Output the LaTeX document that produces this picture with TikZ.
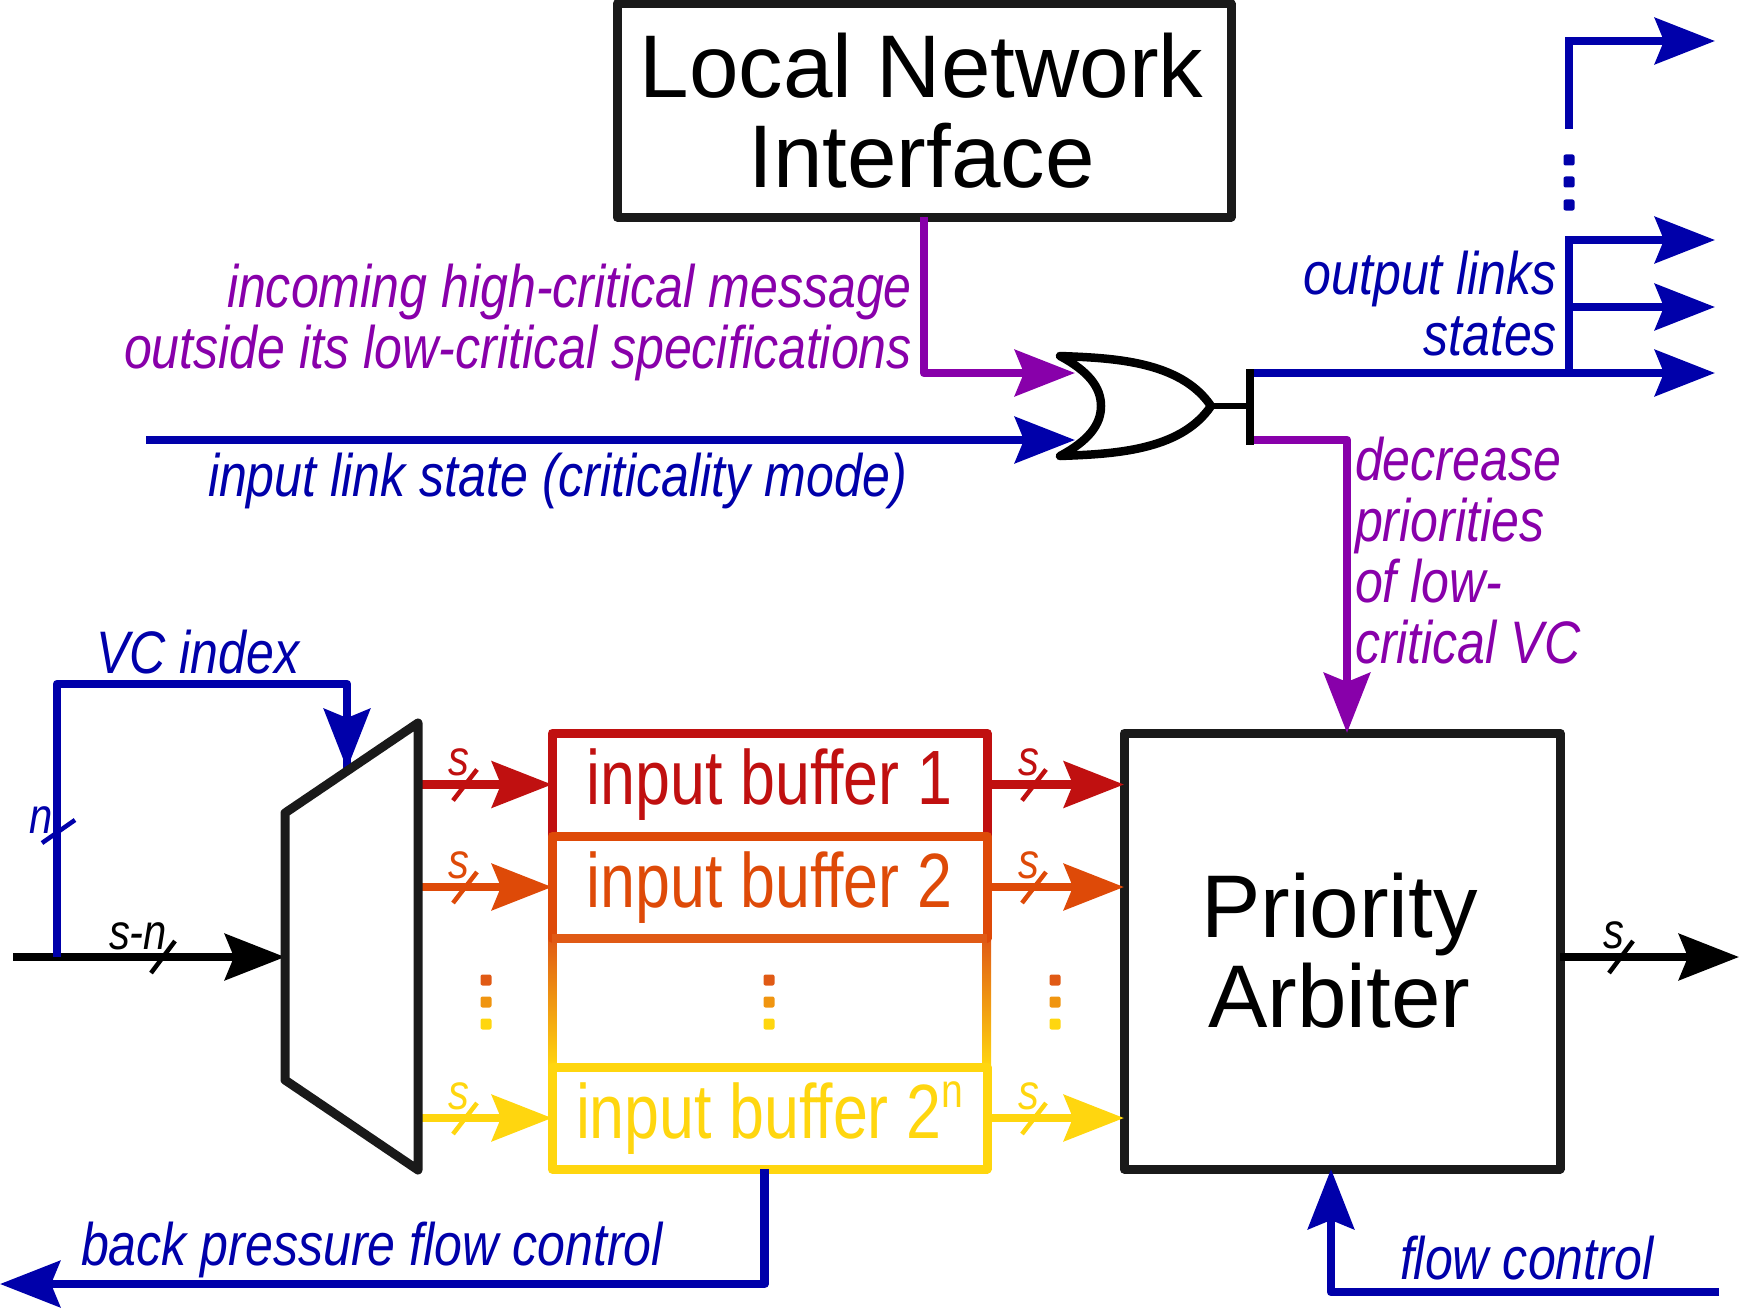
\documentclass[tikz,border=0pt]{standalone}
\usepackage{fontspec}
\setmainfont{Liberation Sans}
\newfontfamily\slimit{Liberation Sans}[FakeStretch=0.835]
\newfontfamily\slimup{Liberation Sans}[FakeStretch=0.815]
\usepackage{tikz}
\usetikzlibrary{positioning}
\usetikzlibrary{calc}
\usetikzlibrary{arrows.meta}
\definecolor{linkblue}{HTML}{0000AA}
\definecolor{critpurple}{HTML}{8800AA}
\definecolor{boxblack}{HTML}{1A1A1A}
\definecolor{bufred}{HTML}{C01010}
\definecolor{bufdeep}{HTML}{DE4A08}
\definecolor{bufmid}{HTML}{E05A15}
\definecolor{bufgold}{HTML}{F09510}
\definecolor{bufyellow}{HTML}{FFD60F}

\begin{document}
\begin{tikzpicture}[x=1pt, y=-1pt, on grid, line join=round,
wire/.style={line width=8.5pt, -{Stealth[length=60pt, width=46pt, inset=9pt]}},
plain/.style={line width=8.5pt},
bigbox/.style={draw=boxblack, line width=9pt, outer sep=0pt, inner sep=0pt, align=center, font=\fontsize{89}{90}\selectfont},
buffer/.style={draw=#1, line width=9pt, outer sep=0pt, inner sep=0pt, minimum width=435pt, text=#1, text height=56pt, text depth=16pt, font=\slimup\fontsize{77}{77}\selectfont},
lbl/.style={inner sep=0pt, outer sep=0pt, font=\slimit\itshape\fontsize{60}{61}\selectfont},
smalllbl/.style={inner sep=0pt, outer sep=0pt, font=\slimit\itshape\fontsize{50}{50}\selectfont},
tickmark/.style={line width=4.5pt},
dotmark/.style={inner sep=0pt, outer sep=0pt, minimum size=11pt, rounded corners=2pt}]
\useasboundingbox (0,0) rectangle (1739,1308);

\coordinate (InStart) at (13,957);
\coordinate (InBranch) at (57,957);
\coordinate (MuxIn) at (285,957);
\coordinate (MuxA) at (285,813);
\coordinate (MuxB) at (418,723);
\coordinate (MuxC) at (418,1170);
\coordinate (MuxD) at (285,1080);
\coordinate (MuxSel) at (347,769);
\coordinate (VcCorner) at (57,684);
\coordinate (Out) at (1739,957);
\coordinate (LinkStart) at (146,440);
\coordinate (GateA) at (1075,373);
\coordinate (GateB) at (1075,440);
\coordinate (GateTop) at (1060,356);
\coordinate (GateBot) at (1060,456);
\coordinate (GateOut) at (1211,406);
\coordinate (GateIn) at (1101,406);
\coordinate (BarTop) at (1250,369);
\coordinate (BarBot) at (1250,445);
\coordinate (BarMid) at (1250,406);
\coordinate (BarBlue) at (1250,373);
\coordinate (BarPurple) at (1250,440);
\coordinate (StateA) at (1715,373);
\coordinate (StateB) at (1715,307);
\coordinate (StateC) at (1715,240);
\coordinate (StateD) at (1715,41);
\coordinate (Trunk) at (1569,373);
\coordinate (TrunkTop) at (1569,129);
\coordinate (BackDrop) at (764.5,1169);
\coordinate (BackEnd) at (0,1284);
\coordinate (FlowStart) at (1719,1292);
\coordinate (DecEnd) at (1347,733);
\coordinate (FlowEnd) at (1331,1169);

\node[bigbox, minimum width=614pt, minimum height=213pt] (LNI) at (924,110.5) {Local Network\kern5pt\\Interface\kern5pt};
\node[bigbox, minimum width=436pt, minimum height=436pt] (PA) at (1342,951) {Priority\kern5pt\\Arbiter\kern5pt};

\draw[wire, black] (InStart) -- (MuxIn);
\draw[plain, linkblue] (InBranch) -- (VcCorner) -| (MuxSel);
\draw[wire, linkblue] (VcCorner -| MuxSel) -- (MuxSel);

\shade[top color=bufmid, bottom color=bufyellow] (548,938) rectangle (556.5,1067);
\shade[top color=bufmid, bottom color=bufyellow] (982.5,938) rectangle (991,1067);
\node[buffer=bufred, minimum height=103pt] (B1) at (769.5,784.5) {input buffer 1};
\node[buffer=bufdeep, minimum height=102pt] (B2) [below = 102.5pt of B1] {input buffer 2};
\draw[bufmid, line width=9pt] (B2.south west) -- (B2.south east);
\node[buffer=bufyellow, minimum height=102pt] (Bn) [below = 231pt of B2] {input buffer 2\raisebox{31pt}{\fontsize{48}{48}\selectfont n}};

\foreach \b/\c/\i in {B1/bufred/1, B2/bufdeep/2, Bn/bufyellow/3} {
\draw[wire, \c] (\b.west -| MuxB) -- (\b.west);
\draw[wire, \c] (\b.east) -- (\b.east -| PA.west);
\node[smalllbl, text=\c, anchor=base west] (SL\i) at ($(\b.west -| MuxB)+(30,-9)$) {s};
\node[smalllbl, text=\c, anchor=base west] (SR\i) at ($(\b.east)+(31,-9)$) {s};
\draw[tickmark, \c] ($(\b.west -| MuxB)+(35,16)$) -- ++(24,-31);
\draw[tickmark, \c] ($(\b.east)+(35,16)$) -- ++(24,-31);
}
\draw[boxblack, line width=9pt] (MuxA) -- (MuxB) -- (MuxC) -- (MuxD) -- cycle;

\foreach \x/\k in {486/a, 769/b, 1055/c} {
\node[dotmark, fill=bufmid] (Dot\k1) at (\x,980) {};
\node[dotmark, fill=bufgold] (Dot\k2) [below = 22pt of Dot\k1] {};
\node[dotmark, fill=bufyellow] (Dot\k3) [below = 22pt of Dot\k2] {};
}

\draw[wire, black] (PA.east |- Out) -- (Out);
\node[smalllbl, anchor=base west] (SOut) at (1603,948) {s};
\draw[tickmark, black] (1609,973) -- ++(24,-32);
\node[smalllbl, text=black, anchor=base west] (SN) at (109,949) {s-n};
\draw[tickmark, black] (151,973) -- ++(24,-32);
\node[smalllbl, text=linkblue, anchor=base west] (NL) at (29,833) {n};
\draw[tickmark, linkblue] (42,843) -- ++(33,-23);

\draw[wire, critpurple] (LNI.south) |- (GateA);
\draw[wire, linkblue] (LinkStart) -- (GateB);
\draw[black, line width=8.5pt] (GateTop) .. controls (1110,358) and (1180,360) .. (GateOut) .. controls (1180,452) and (1110,454) .. (GateBot) .. controls (1088,441) and (1101,425) .. (GateIn) .. controls (1101,387) and (1088,371) .. (GateTop) -- cycle;
\draw[black, line width=6.5pt] (GateOut) -- (BarMid);
\draw[wire, linkblue] (BarBlue) -- (StateA);
\draw[plain, linkblue] (Trunk) -- (Trunk |- StateC);
\draw[wire, linkblue] ($(Trunk |- StateB)+(-4,0)$) -- (StateB);
\draw[wire, linkblue] ($(Trunk |- StateC)+(-4,0)$) -- (StateC);
\draw[plain, linkblue] (TrunkTop) -- (Trunk |- StateD);
\draw[wire, linkblue] ($(Trunk |- StateD)+(-4,0)$) -- (StateD);
\foreach \y/\k in {160/1, 182/2, 205/3} {
\node[dotmark, fill=linkblue] (DotS\k) at (1569,\y) {};
}
\draw[wire, critpurple] (BarPurple) -| (DecEnd);
\draw[black, line width=8.5pt] (BarTop) -- (BarBot);

\draw[wire, linkblue] (BackDrop) |- (BackEnd);
\draw[wire, linkblue] (FlowStart) -| (FlowEnd);

\node[lbl, text=critpurple, anchor=base east, align=right] (HighMsg) at (912,368) {incoming high-critical message\\outside its low-critical specifications};
\node[lbl, text=linkblue, anchor=base west] (LinkLbl) at (208,496) {input link state (criticality mode)};
\node[lbl, text=linkblue, anchor=base east, align=right] (OutLbl) at (1557,355) {output links\\states};
\node[lbl, text=critpurple, anchor=base west, align=left] (DecLbl) at (1355,663) {decrease\\priorities\\of low-\\critical VC};
\node[lbl, text=linkblue, anchor=base west] (VcLbl) at (96,673) {VC index};
\node[lbl, text=linkblue, anchor=base west] (BackLbl) at (81,1265) {back pressure flow control};
\node[lbl, text=linkblue, anchor=base west] (FlowLbl) at (1400,1279) {flow control};
\end{tikzpicture}
\end{document}
